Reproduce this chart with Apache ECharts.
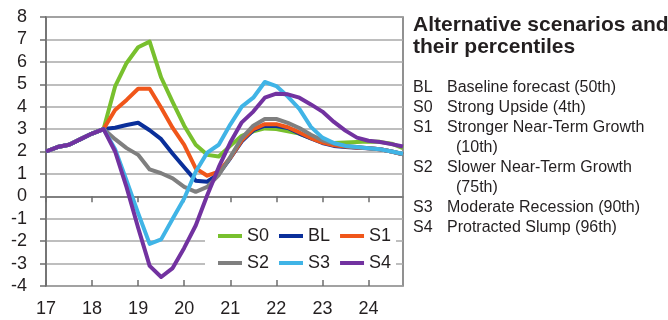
<!DOCTYPE html>
<html>
<head>
<meta charset="utf-8">
<script src="https://cdn.jsdelivr.net/npm/echarts@6/dist/echarts.min.js"></script>
<style>
  html, body { margin: 0; padding: 0; background: #fff; }
  #chart { width: 668px; height: 320px; }
</style>
</head>
<body>
<div id="chart"></div>
<script>
// quarterly points, label shown on Q1 of each year
const quarters = [
  '17Q1', '17Q2', '17Q3', '17Q4', '18Q1', '18Q2', '18Q3', '18Q4',
  '19Q1', '19Q2', '19Q3', '19Q4', '20Q1', '20Q2', '20Q3', '20Q4',
  '21Q1', '21Q2', '21Q3', '21Q4', '22Q1', '22Q2', '22Q3', '22Q4',
  '23Q1', '23Q2', '23Q3', '23Q4', '24Q1', '24Q2', '24Q3', '24Q4'
]

const s0 = [2.0, 2.2, 2.3, 2.55, 2.8, 3.0, 4.9, 5.95, 6.65, 6.9, 5.3, 4.2, 3.15, 2.3, 1.85, 1.78,
  2.25, 2.7, 2.9, 3.03, 3.0, 2.9, 2.8, 2.6, 2.45, 2.38, 2.4, 2.42, 2.45, 2.43, 2.35, 2.15]
const bl = [2.0, 2.2, 2.3, 2.55, 2.8, 3.0, 3.06, 3.18, 3.28, 2.95, 2.55, 1.9, 1.3, 0.7, 0.65, 1.0,
  1.7, 2.45, 2.95, 3.15, 3.14, 3.05, 2.8, 2.58, 2.38, 2.25, 2.2, 2.17, 2.14, 2.1, 2.0, 1.88]
const s1 = [2.0, 2.2, 2.3, 2.55, 2.8, 3.0, 3.85, 4.3, 4.8, 4.8, 3.95, 3.05, 2.3, 1.25, 0.92, 1.1,
  1.72, 2.5, 3.0, 3.22, 3.22, 3.08, 2.85, 2.6, 2.4, 2.28, 2.22, 2.18, 2.15, 2.1, 2.0, 1.88]
const s2 = [2.0, 2.2, 2.3, 2.55, 2.8, 3.0, 2.55, 2.15, 1.85, 1.2, 1.03, 0.8, 0.42, 0.2, 0.42, 0.95,
  1.75, 2.6, 3.15, 3.45, 3.45, 3.28, 3.05, 2.75, 2.5, 2.35, 2.25, 2.2, 2.15, 2.1, 2.0, 1.88]
const s3 = [2.0, 2.2, 2.3, 2.55, 2.8, 3.0, 2.1, 0.7, -0.75, -2.12, -1.92, -1.0, -0.1, 1.1, 1.95, 2.3,
  3.2, 4.0, 4.4, 5.1, 4.92, 4.45, 3.9, 3.1, 2.62, 2.38, 2.25, 2.2, 2.15, 2.1, 2.0, 1.9]
const s4 = [2.0, 2.2, 2.3, 2.55, 2.8, 3.0, 2.0, 0.4, -1.4, -3.1, -3.6, -3.2, -2.3, -1.3, 0.05, 1.3,
  2.4, 3.3, 3.78, 4.4, 4.58, 4.55, 4.4, 4.1, 3.78, 3.32, 2.93, 2.62, 2.48, 2.42, 2.33, 2.22]

const seriesNames = ['S0', 'BL', 'S1', 'S2', 'S3', 'S4']
const seriesColors = ['#78c02e', '#0a2f9a', '#f0561a', '#7f7f7f', '#40b4e6', '#7232a0']
const seriesData = [s0, bl, s1, s2, s3, s4]

const titleLines = ['Alternative scenarios and', 'their percentiles']
const noteCodes = ['BL', 'S0', 'S1', '', 'S2', '', 'S3', 'S4']
const noteTexts = [
  'Baseline forecast (50th)',
  'Strong Upside (4th)',
  'Stronger Near-Term Growth',
  '(10th)',
  'Slower Near-Term Growth',
  '(75th)',
  'Moderate Recession (90th)',
  'Protracted Slump (96th)'
]

const textColor = '#231f20'
const font = 'Liberation Sans, Arial, sans-serif'

const chart = echarts.init(document.getElementById('chart'))

const graphics = [
  {
    type: 'rect',
    z: 3,
    shape: { x: 205, y: 222, width: 191, height: 56 },
    style: { fill: '#fff' }
  }
]
titleLines.forEach((t, i) => {
  graphics.push({
    type: 'text',
    x: 413,
    y: 25 + i * 22,
    style: { text: t, font: 'bold 21px ' + font, fill: textColor, verticalAlign: 'middle' }
  })
})
noteTexts.forEach((t, i) => {
  const y = 88 + i * 20
  if (noteCodes[i]) {
    graphics.push({
      type: 'text', x: 413, y: y,
      style: { text: noteCodes[i], font: '16px ' + font, fill: textColor, verticalAlign: 'middle' }
    })
  }
  graphics.push({
    type: 'text', x: noteCodes[i] ? 447 : 456, y: y,
    style: { text: t, font: '16px ' + font, fill: textColor, verticalAlign: 'middle' }
  })
})

const legendBase = {
  left: 218,
  orient: 'horizontal',
  icon: 'rect',
  itemWidth: 24,
  itemHeight: 4,
  itemGap: 10,
  padding: 0,
  textStyle: { fontSize: 18, color: textColor, fontFamily: font }
}

const option = {
  animation: false,
  textStyle: { fontFamily: font },
  grid: {
    left: 46,
    right: 265,
    top: 17,
    bottom: 34,
    show: true,
    borderColor: '#6e6e6e',
    borderWidth: 1.5
  },
  legend: [
    { ...legendBase, top: 227, data: ['S0', 'BL', 'S1'] },
    { ...legendBase, top: 254, data: ['S2', 'S3', 'S4'] }
  ],
  xAxis: [
    {
      type: 'category',
      data: quarters,
      boundaryGap: false,
      axisLine: { lineStyle: { color: '#6e6e6e', width: 1.5 } },
      axisTick: { interval: 3, length: 6, lineStyle: { color: '#6e6e6e', width: 1.5 } },
      axisLabel: {
        interval: 3,
        margin: 14,
        fontSize: 18,
        color: textColor,
        formatter: v => v.slice(0, 2)
      },
      splitLine: { show: false }
    },
    {
      type: 'category',
      data: quarters,
      position: 'bottom',
      boundaryGap: false,
      axisLine: { show: false },
      axisTick: { inside: true, interval: 3, length: 6, lineStyle: { color: '#6e6e6e', width: 1.5 } },
      axisLabel: { show: false },
      splitLine: { show: false }
    }
  ],
  yAxis: {
    type: 'value',
    min: -4,
    max: 8,
    interval: 1,
    axisLine: { show: true, lineStyle: { color: '#6e6e6e', width: 1.5 } },
    axisTick: { show: true, length: 6, lineStyle: { color: '#6e6e6e', width: 1.5 } },
    axisLabel: { fontSize: 18, color: textColor, margin: 19 },
    splitLine: { lineStyle: { color: '#a8a8a8', width: 1.5 } }
  },
  graphic: graphics,
  series: seriesNames.map((name, i) => ({
    name: name,
    type: 'line',
    data: seriesData[i],
    symbol: 'none',
    smooth: false,
    z: 2,
    itemStyle: { color: seriesColors[i] },
    lineStyle: { color: seriesColors[i], width: 4, join: 'round' }
  }))
}

chart.setOption(option)
</script>
</body>
</html>
